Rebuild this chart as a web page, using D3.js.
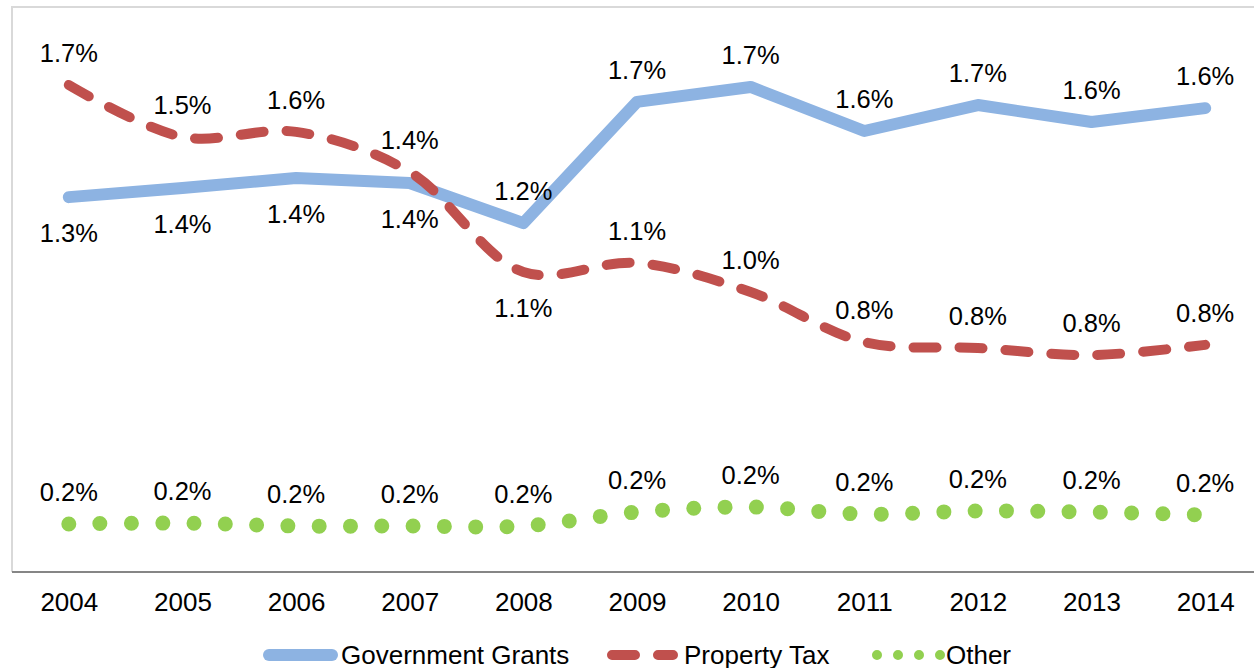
<!DOCTYPE html>
<html>
<head>
<meta charset="utf-8">
<script src="https://cdn.jsdelivr.net/npm/d3@7"></script>
<style>
  html, body { margin: 0; padding: 0; background: #fff; }
  svg { display: block; font-family: "Liberation Sans", Arial, sans-serif; }
</style>
</head>
<body>
<div id="chart"></div>
<script>
// data (percent)
const years = ["2004", "2005", "2006", "2007", "2008", "2009", "2010", "2011", "2012", "2013", "2014"];
const grants = [1.327, 1.359, 1.395, 1.377, 1.235, 1.664, 1.717, 1.561, 1.653, 1.593, 1.642];
const propertyTax = [1.724, 1.540, 1.558, 1.416, 1.062, 1.094, 0.991, 0.814, 0.793, 0.768, 0.804];
const other = [0.170, 0.173, 0.163, 0.163, 0.163, 0.212, 0.230, 0.205, 0.216, 0.212, 0.202];
const seriesNames = ["Government Grants", "Property Tax", "Other"];

// which labels sit under the line
const labelsBelow = {
  "Government Grants": [0, 1, 2, 3],
  "Property Tax": [4],
  "Other": []
};

const W = 1254, H = 668;
const plot = { left: 12, right: 1262, top: 7, bottom: 572 };

const svg = d3.select("#chart").append("svg")
  .attr("width", W)
  .attr("height", H);

const x = d3.scalePoint()
  .domain(years)
  .range([plot.left, plot.right])
  .padding(0.5);

const y = d3.scaleLinear()
  .domain([0, 2])
  .range([plot.bottom, plot.top]);

// frame (left + top borders)
svg.append("path")
  .attr("d", `M${plot.left},${plot.bottom} V${plot.top} H${W}`)
  .attr("fill", "none")
  .attr("stroke", "#d9d9d9")
  .attr("stroke-width", 2);

// x axis
const xAxis = svg.append("g")
  .attr("transform", `translate(0,${plot.bottom})`)
  .call(d3.axisBottom(x).tickSize(0).tickPadding(21));
xAxis.select(".domain")
  .attr("d", `M${plot.left},0H${W}`)
  .attr("stroke", "#868686")
  .attr("stroke-width", 2);
xAxis.selectAll("text")
  .attr("font-size", 26)
  .attr("font-family", "Liberation Sans, Arial, sans-serif")
  .attr("fill", "#000");

const series = [
  { name: seriesNames[0], values: grants, color: "#8db3e2", width: 12, dash: null, curve: d3.curveLinear },
  { name: seriesNames[1], values: propertyTax, color: "#c0504d", width: 10, dash: "23 23", curve: d3.curveCatmullRom.alpha(0.5) },
  { name: seriesNames[2], values: other, color: "#92d050", width: 15, dash: "0 31.3", curve: d3.curveCatmullRom.alpha(0.5) }
];

series.forEach((s) => {
  const line = d3.line()
    .x((d, i) => x(years[i]))
    .y((d) => y(d))
    .curve(s.curve);
  svg.append("path")
    .datum(s.values)
    .attr("d", line)
    .attr("fill", "none")
    .attr("stroke", s.color)
    .attr("stroke-width", s.width)
    .attr("stroke-linecap", "round")
    .attr("stroke-linejoin", "round")
    .attr("stroke-dasharray", s.dash);
});

// data labels
const fmt = d3.format(".1f");
series.forEach((s) => {
  svg.append("g").selectAll("text")
    .data(s.values)
    .enter()
    .append("text")
    .attr("x", (d, i) => x(years[i]))
    .attr("y", (d, i) => labelsBelow[s.name].includes(i) ? y(d) + 45 : y(d) - 23)
    .attr("text-anchor", "middle")
    .attr("font-size", 25.5)
    .attr("fill", "#000")
    .text((d) => fmt(d) + "%");
});

// legend
const legendY = 655;
const legendItems = [
  { x0: 269, x1: 332, tx: 341, s: series[0], dash: null },
  { x0: 612, x1: 673, tx: 684, s: series[1], dash: "23 23" },
  { x0: 877, x1: 940.5, tx: 946, s: series[2], dash: "0 21" }
];
const legend = svg.append("g");
legendItems.forEach((it) => {
  legend.append("line")
    .attr("x1", it.x0).attr("x2", it.x1)
    .attr("y1", legendY).attr("y2", legendY)
    .attr("stroke", it.s.color)
    .attr("stroke-width", it.s.name === "Other" ? 10 : it.s.width)
    .attr("stroke-linecap", "round")
    .attr("stroke-dasharray", it.dash);
  legend.append("text")
    .attr("x", it.tx)
    .attr("y", legendY + 9)
    .attr("font-size", 26)
    .attr("fill", "#000")
    .text(it.s.name);
});
</script>
</body>
</html>
